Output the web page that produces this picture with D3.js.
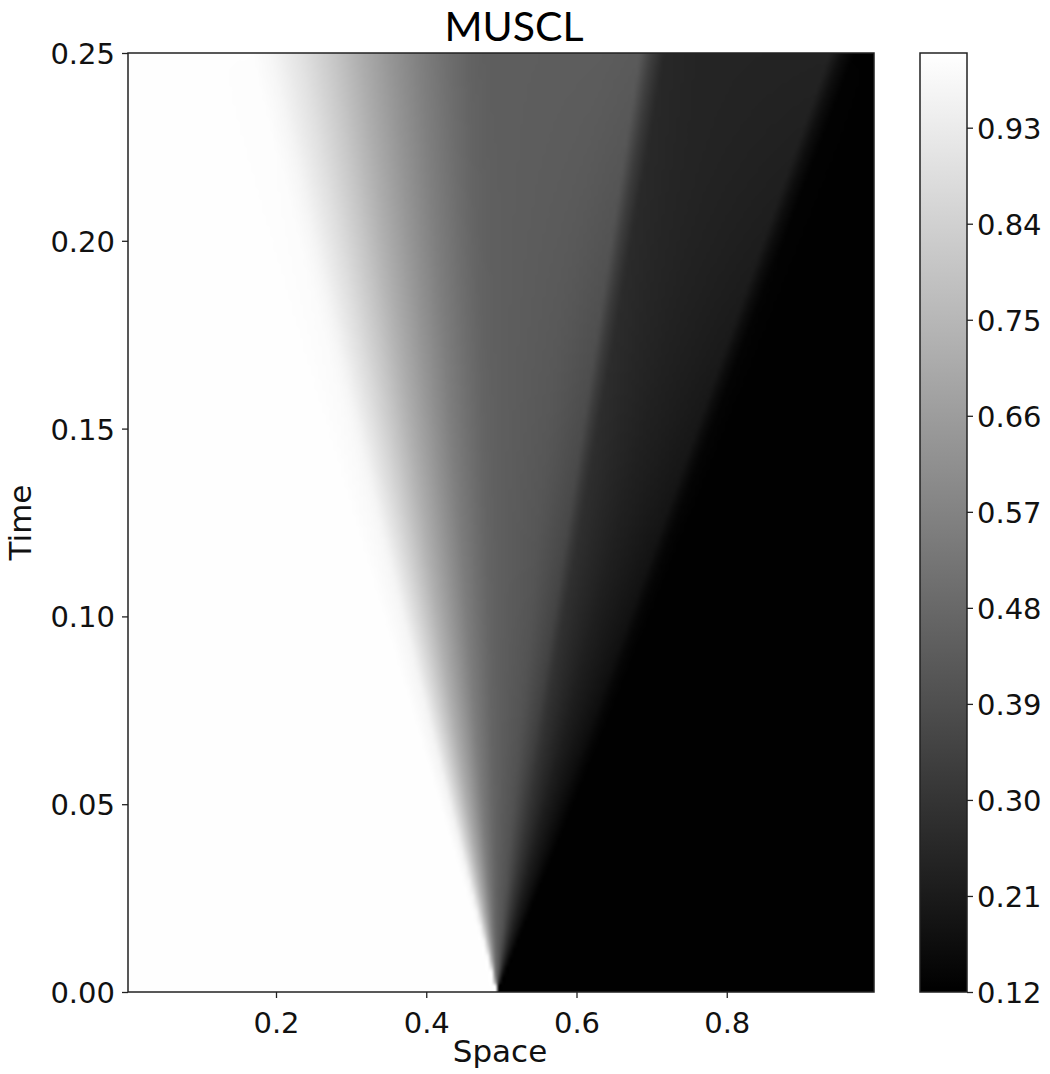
<!DOCTYPE html>
<html>
<head>
<meta charset="utf-8">
<script src="https://cdn.jsdelivr.net/npm/d3@7/dist/d3.min.js"></script>
<style>
  html, body { margin: 0; padding: 0; background: #fff; }
  svg { display: block; }
</style>
</head>
<body>
<svg id="chart" width="1050" height="1074"></svg>
<script>
// ---------------- data ----------------
const title = "MUSCL";
const xLabel = "Space";
const yLabel = "Time";
const spaceTicks = [0.2, 0.4, 0.6, 0.8];
const timeTicks = [0.00, 0.05, 0.10, 0.15, 0.20, 0.25];
const colorTicks = [0.12, 0.21, 0.30, 0.39, 0.48, 0.57, 0.66, 0.75, 0.84, 0.93];
const spaceExtent = [0.003, 0.996];
const timeExtent = [0, 0.25];
const densityExtent = [0.12, 1.0];
// initial discontinuity location
const diaphragm = 0.494;
// density profiles, as a function of wave speed (x - x0) / t
// row at t = 0.25 (top of the plot)
const topTime = 0.25;
const topSpeed   = [-1.315, -1.208, -1.048, -0.889, -0.729, -0.569, -0.410, -0.250, -0.144, -0.037, 0.548, 0.761, 0.825, 0.894, 1.080, 1.772, 1.836, 1.905];
const topDensity = [ 0.995,  0.970,  0.900,  0.815,  0.720,  0.635,  0.560,  0.495,  0.460,  0.445, 0.440, 0.430, 0.330, 0.255, 0.245, 0.240, 0.170, 0.125];
// row at t = 0.05 (more smeared by numerical diffusion)
const lowTime = 0.05;
const lowSpeed   = [-1.50, -1.25, -0.80, -0.40, -0.10, 0.10, 0.45, 0.88, 1.30, 1.68, 2.02];
const lowDensity = [ 0.995, 0.960, 0.720, 0.550, 0.470, 0.440, 0.400, 0.300, 0.220, 0.170, 0.125];
// grid of the numerical solution
const nCellsX = 200;
const nStepsT = 250;

// ---------------- layout ----------------
const plot = { left: 128, right: 874, top: 53, bottom: 992 };
const cbar = { left: 920, right: 967, top: 53, bottom: 992 };

const svg = d3.select("#chart");
const x = d3.scaleLinear().domain(spaceExtent).range([plot.left, plot.right]);
const y = d3.scaleLinear().domain(timeExtent).range([plot.bottom, plot.top]);
const profTop = d3.scaleLinear().domain(topSpeed).range(topDensity).clamp(true);
const profLow = d3.scaleLinear().domain(lowSpeed).range(lowDensity).clamp(true);
const blend = d3.scaleLinear().domain([lowTime, topTime]).range([0, 1]).clamp(true);
const color = d3.scaleLinear().domain(densityExtent).range(["#000000", "#ffffff"]).clamp(true);
const cy = d3.scaleLinear().domain(densityExtent).range([cbar.bottom, cbar.top]);

// ---------------- heatmap ----------------
const dx = (spaceExtent[1] - spaceExtent[0]) / nCellsX;
const dt = (timeExtent[1] - timeExtent[0]) / nStepsT;
const small = document.createElement("canvas");
small.width = nCellsX; small.height = nStepsT;
const sctx = small.getContext("2d");
const img = sctx.createImageData(nCellsX, nStepsT);
for (let j = 0; j < nStepsT; j++) {
  const t = timeExtent[1] - (j + 0.5) * dt;
  const w = blend(t);
  for (let i = 0; i < nCellsX; i++) {
    const xc = spaceExtent[0] + (i + 0.5) * dx;
    const s = (xc - diaphragm) / t;
    const rho = w * profTop(s) + (1 - w) * profLow(s);
    const c = d3.rgb(color(rho));
    const k = 4 * (j * nCellsX + i);
    img.data[k] = c.r; img.data[k + 1] = c.g; img.data[k + 2] = c.b; img.data[k + 3] = 255;
  }
}
sctx.putImageData(img, 0, 0);
const pw = plot.right - plot.left, ph = plot.bottom - plot.top;
const big = document.createElement("canvas");
big.width = pw; big.height = ph;
const bctx = big.getContext("2d");
bctx.imageSmoothingEnabled = true;
bctx.imageSmoothingQuality = "high";
bctx.drawImage(small, 0, 0, pw, ph);

svg.append("image")
  .attr("x", plot.left).attr("y", plot.top)
  .attr("width", pw).attr("height", ph)
  .attr("preserveAspectRatio", "none")
  .attr("href", big.toDataURL());

// ---------------- axes ----------------
const tickFont = "DejaVu Sans, sans-serif";
const xAxis = d3.axisBottom(x).tickValues(spaceTicks).tickFormat(d3.format(".1f")).tickSize(6).tickSizeOuter(0);
const yAxis = d3.axisLeft(y).tickValues(timeTicks).tickFormat(d3.format(".2f")).tickSize(6).tickSizeOuter(0);

const gx = svg.append("g").attr("transform", `translate(0,${plot.bottom})`).call(xAxis);
const gy = svg.append("g").attr("transform", `translate(${plot.left},0)`).call(yAxis);
[gx, gy].forEach(g => {
  g.select(".domain").remove();
  g.selectAll(".tick line").attr("stroke", "#222").attr("stroke-width", 1.3);
  g.selectAll(".tick text").attr("fill", "#111").style("font-family", tickFont).style("font-size", "29px");
});
gx.selectAll(".tick text").attr("dy", null).attr("y", 41);
gy.selectAll(".tick text").attr("x", -13).attr("dy", "0.36em");

// frame
svg.append("rect")
  .attr("x", plot.left).attr("y", plot.top).attr("width", pw).attr("height", ph)
  .attr("fill", "none").attr("stroke", "#222").attr("stroke-width", 1.5);

// labels
svg.append("text")
  .attr("x", 500).attr("y", 1062)
  .attr("text-anchor", "middle")
  .style("font-family", tickFont).style("font-size", "31px").attr("fill", "#111")
  .text(xLabel);
svg.append("text")
  .attr("transform", `translate(31,${(plot.top + plot.bottom) / 2}) rotate(-90)`)
  .attr("text-anchor", "middle")
  .style("font-family", tickFont).style("font-size", "31px").attr("fill", "#111")
  .text(yLabel);
svg.append("text")
  .attr("x", 514).attr("y", 41)
  .attr("text-anchor", "middle")
  .style("font-family", "Lato, 'Open Sans', sans-serif").style("font-size", "41px").attr("fill", "#000")
  .text(title);

// ---------------- colorbar ----------------
const defs = svg.append("defs");
const grad = defs.append("linearGradient").attr("id", "cb")
  .attr("x1", 0).attr("y1", 1).attr("x2", 0).attr("y2", 0);
d3.range(0, 1.0001, 0.1).forEach(f => {
  const v = densityExtent[0] + f * (densityExtent[1] - densityExtent[0]);
  grad.append("stop").attr("offset", f).attr("stop-color", color(v));
});
svg.append("rect")
  .attr("x", cbar.left).attr("y", cbar.top)
  .attr("width", cbar.right - cbar.left).attr("height", cbar.bottom - cbar.top)
  .attr("fill", "url(#cb)").attr("stroke", "#222").attr("stroke-width", 1.5);

const cAxis = d3.axisRight(cy).tickValues(colorTicks).tickFormat(d3.format(".2f")).tickSize(6).tickSizeOuter(0);
const gc = svg.append("g").attr("transform", `translate(${cbar.right},0)`).call(cAxis);
gc.select(".domain").remove();
gc.selectAll(".tick line").attr("stroke", "#222").attr("stroke-width", 1.3);
gc.selectAll(".tick text").attr("fill", "#111").attr("x", 10).attr("dy", "0.36em")
  .style("font-family", tickFont).style("font-size", "29px");
</script>
</body>
</html>
